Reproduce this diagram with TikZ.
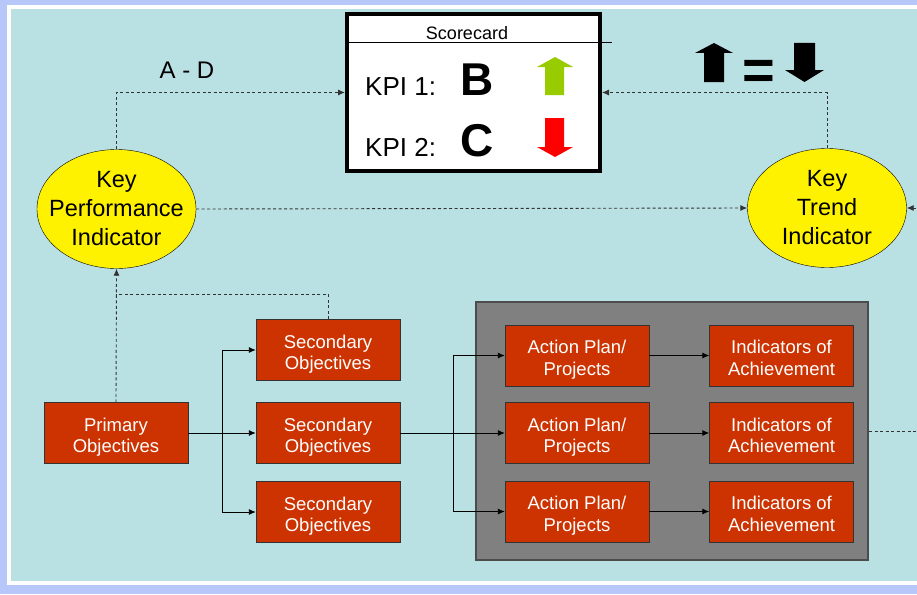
\documentclass[tikz,border=0pt]{standalone}
\usepackage{fontspec}
\setmainfont{Liberation Sans}
\usetikzlibrary{shapes.geometric,arrows.meta}
\definecolor{slideblue}{RGB}{185,224,227}
\definecolor{slideframe}{RGB}{183,199,250}
\definecolor{objred}{RGB}{204,51,0}
\definecolor{kpigreen}{RGB}{153,204,0}

\begin{document}
\begin{tikzpicture}[x=1pt,y=-1pt,
    objbox/.style={draw=black!80,fill=objred,text=white,minimum width=144pt,
        minimum height=61pt,inner sep=0pt,align=center,text height=43pt,
        text depth=4pt,font=\fontsize{18.5}{21.3}\selectfont},
    indic/.style={ellipse,draw=black,fill=yellow,minimum width=159pt,
        minimum height=119pt,inner xsep=-12pt,inner ysep=0pt,align=center,
        text height=78.4pt,text depth=5pt,font=\fontsize{23.5}{29}\selectfont},
    link/.style={line width=0.9pt,-{Latex[length=7pt,width=6pt]}},
    dlink/.style={link,black!80,dash pattern=on 3pt off 2.5pt},
]
    \clip (0,0) rectangle (917,594);
    % slide background
    \fill[slideframe] (0,0) rectangle (917,594);
    \filldraw[fill=slideblue,draw=white,line width=4pt] (9,7.5) rectangle (940,582.5);

    % scorecard
    \node[draw=black,line width=4pt,fill=white,minimum width=253pt,
        minimum height=157pt,inner sep=0pt] (card) at (473.5,92.5) {};
    \draw[line width=1pt] (346,43) -- (612,43);
    \node[anchor=base,inner sep=0pt,font=\fontsize{18}{18}\selectfont] (title) at (467,40) {Scorecard};
    \node[anchor=base west,inner sep=0pt,font=\fontsize{26}{26}\selectfont] (kpione) at (365,95) {KPI 1:};
    \node[anchor=base west,inner sep=0pt,font=\fontsize{46}{46}\selectfont\bfseries] (gradeb) at (460,95) {B};
    \node[anchor=base west,inner sep=0pt,font=\fontsize{26}{26}\selectfont] (kpitwo) at (365,156) {KPI 2:};
    \node[anchor=base west,inner sep=0pt,font=\fontsize{46}{46}\selectfont\bfseries] (gradec) at (460,156) {C};
    \fill[kpigreen] (545,95) -- (545,67) -- (537,67) -- (555,57) -- (573,67) -- (564,67) -- (564,95) -- cycle;
    \fill[red] (545,118) -- (564,118) -- (564,147) -- (573,147) -- (555,157) -- (537,147) -- (545,147) -- cycle;

    % trend legend
    \fill[black] (704,82) -- (704,53) -- (695,53) -- (714,43) -- (733,53) -- (724,53) -- (724,82) -- cycle;
    \node[anchor=base,inner sep=0pt,font=\fontsize{56}{56}\selectfont\bfseries] (equal) at (759,89) {=};
    \fill[black] (794,43) -- (815,43) -- (815,70) -- (824,70) -- (804.5,82) -- (785,70) -- (794,70) -- cycle;
    \node[anchor=base,inner sep=0pt,font=\fontsize{24}{24}\selectfont] (grades) at (187,78) {A - D};

    % indicators
    \node[indic] (kpi) at (116.5,209) {Key\\Performance\\Indicator};
    \node[indic] (kti) at (827,208) {Key\\Trend\\Indicator};

    % objectives
    \node[objbox] (primary) at (116,433) {Primary\\Objectives};
    \node[objbox] (secone) at (328,350) {Secondary\\Objectives};
    \node[objbox] (sectwo) at (328,433) {Secondary\\Objectives};
    \node[objbox] (secthree) at (328,512) {Secondary\\Objectives};

    % actions
    \node[draw=black!70,line width=2pt,fill=black!50,minimum width=392pt,
        minimum height=258pt,inner sep=0pt] (panel) at (672,431) {};
    \node[objbox] (actone) at (577,355.5) {Action Plan/\\Projects};
    \node[objbox] (acttwo) at (577,433) {Action Plan/\\Projects};
    \node[objbox] (actthree) at (577,511.5) {Action Plan/\\Projects};
    \node[objbox] (achone) at (781.5,355.5) {Indicators of\\Achievement};
    \node[objbox] (achtwo) at (781.5,433) {Indicators of\\Achievement};
    \node[objbox] (achthree) at (781.5,511.5) {Indicators of\\Achievement};

    % solid links
    \coordinate (forkone) at (222,433);
    \coordinate (forktwo) at (453,433);
    \draw[line width=0.9pt] (primary.east) -- (forkone);
    \draw[link] (forkone) |- (secone.west);
    \draw[link] (forkone) -- (sectwo.west);
    \draw[link] (forkone) |- (secthree.west);
    \draw[line width=0.9pt] (sectwo.east) -- (forktwo);
    \draw[link] (forktwo) |- (actone.west);
    \draw[link] (forktwo) -- (acttwo.west);
    \draw[link] (forktwo) |- (actthree.west);
    \draw[link] (actone) -- (achone);
    \draw[link] (acttwo) -- (achtwo);
    \draw[link] (actthree) -- (achthree);

    % dashed links
    \coordinate (joinup) at (116,294);
    \coordinate (offright) at (935,431);
    \draw[dlink] (primary.north) -- (kpi.south);
    \draw[dlink,-] (secone.north) |- (joinup);
    \draw[dlink] (kpi.north) |- (card.west);
    \draw[dlink] (kti.north) |- (card.east);
    \draw[dlink] (kpi.east) -- (kti.west);
    \draw[dlink,-] (panel.east) -- (offright);
    \draw[dlink] (offright) |- (kti.east);
\end{tikzpicture}
\end{document}
